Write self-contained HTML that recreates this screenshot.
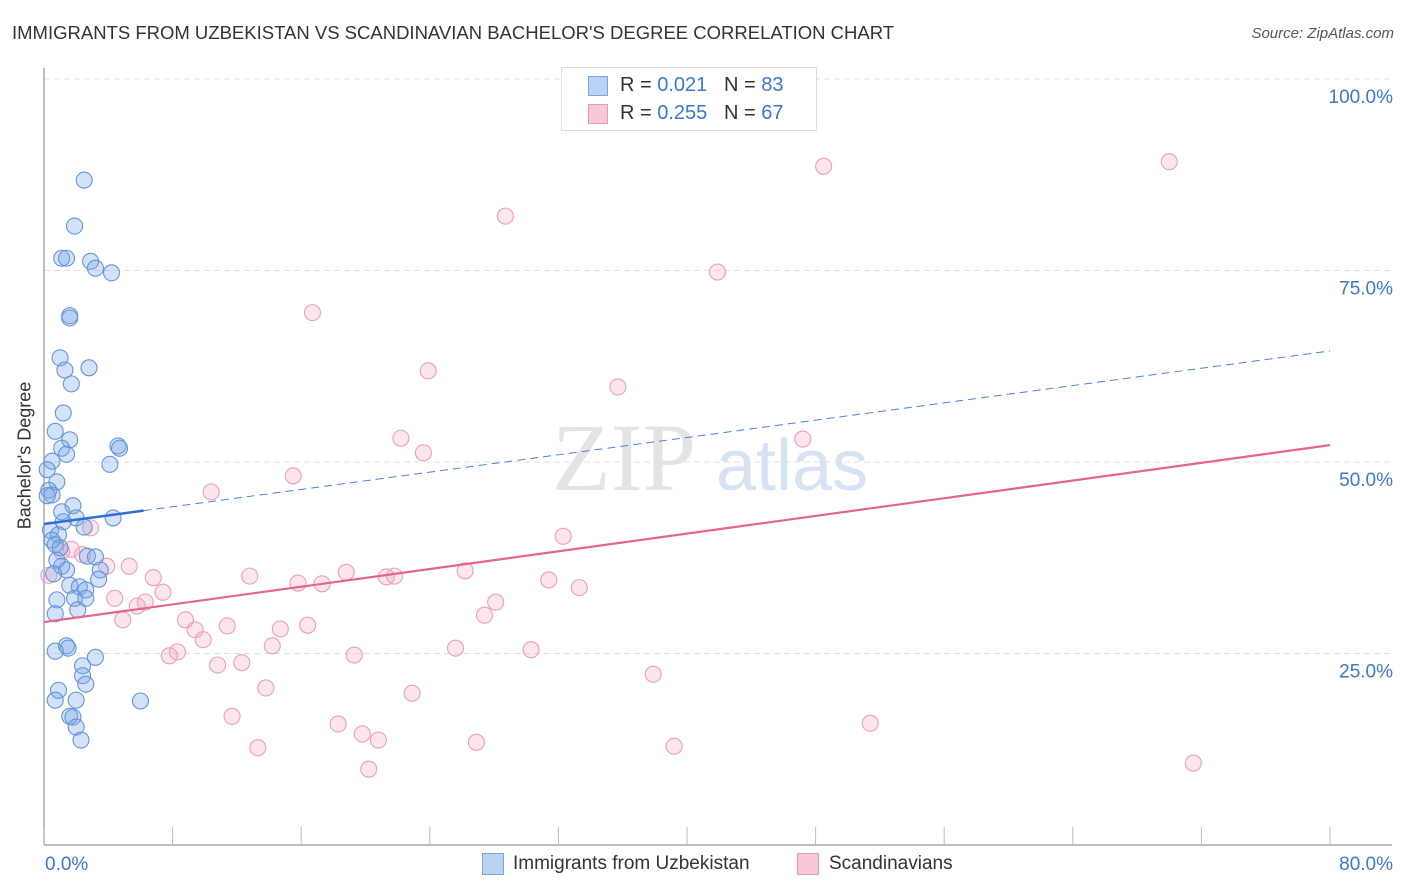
<!DOCTYPE html>
<html><head><meta charset="utf-8">
<style>
body{margin:0;background:#fff;font-family:"Liberation Sans",sans-serif;}
#wrap{position:relative;width:1406px;height:892px;overflow:hidden;}
.t{position:absolute;white-space:nowrap;}
</style></head>
<body>
<div id="wrap">
<div class="t" style="left:12px;top:22px;font-size:18.5px;color:#333;">IMMIGRANTS FROM UZBEKISTAN VS SCANDINAVIAN BACHELOR'S DEGREE CORRELATION CHART</div>
<div class="t" style="right:12px;top:25px;font-size:15px;color:#555;font-style:italic;">Source: ZipAtlas.com</div>
<div class="t" style="left:-49px;top:445px;font-size:18px;color:#333;transform:rotate(-90deg);">Bachelor's Degree</div>
<svg id="plot" width="1406" height="892" style="position:absolute;left:0;top:0"></svg>
<div style="position:absolute;left:561px;top:67px;width:254px;height:62px;border:1px solid #ddd;background:#fff;font-size:20px;color:#333;">
 <div style="position:absolute;left:26px;top:8px;width:18px;height:18px;background:#b9d3f5;border:1px solid #7aa6e0;"></div>
 <div class="t" style="left:58px;top:6px;">R = <span style="color:#3a78d0">0.021</span> &nbsp;&nbsp;N = <span style="color:#3a78d0">83</span></div>
 <div style="position:absolute;left:26px;top:36px;width:18px;height:18px;background:#f9c8d6;border:1px solid #e99ab4;"></div>
 <div class="t" style="left:58px;top:34px;">R = <span style="color:#3a78d0">0.255</span> &nbsp;&nbsp;N = <span style="color:#3a78d0">67</span></div>
</div>
<div style="position:absolute;left:482px;top:853px;width:20px;height:20px;background:#b9d3f5;border:1px solid #7aa6e0;"></div>
<div class="t" style="left:513px;top:853px;font-size:19px;color:#333;">Immigrants from Uzbekistan</div>
<div style="position:absolute;left:797px;top:853px;width:20px;height:20px;background:#f9c8d6;border:1px solid #e99ab4;"></div>
<div class="t" style="left:829px;top:853px;font-size:19px;color:#333;">Scandinavians</div>
</div>
<script>
const yTicks=[25,50,75,100];
const yTickLabels=["25.0%","50.0%","75.0%","100.0%"];
const xTickLabels=["0.0%","80.0%"];
const blueX=[2.5,1.9,1.1,1.4,2.9,3.2,4.2,1.6,1.6,1.0,2.8,1.3,1.7,1.2,0.7,1.6,1.1,4.6,4.7,1.4,0.5,4.1,0.2,0.8,0.3,0.5,0.2,1.8,1.1,2.0,4.3,1.2,2.5,0.4,0.9,0.5,0.7,1.0,2.7,3.2,0.8,1.1,1.4,0.6,3.5,3.4,1.6,2.2,2.6,1.9,2.6,0.8,2.1,0.7,1.4,1.5,0.7,3.2,2.4,2.4,2.6,0.9,0.7,2.0,6.0,1.6,1.8,2.0,2.3];
const blueY=[86.8,80.8,76.6,76.6,76.2,75.3,74.7,69.1,68.8,63.6,62.3,62.0,60.2,56.4,54.0,52.9,51.8,52.1,51.8,51.0,50.1,49.7,49.0,47.4,46.3,45.7,45.6,44.3,43.5,42.7,42.7,42.2,41.5,41.1,40.5,39.8,39.2,38.8,37.7,37.6,37.2,36.4,35.9,35.4,35.9,34.7,33.9,33.7,33.3,32.2,32.2,32.0,30.7,30.2,26.0,25.7,25.3,24.5,23.4,22.1,21.0,20.2,18.9,18.9,18.8,16.8,16.7,15.4,13.7];
const pinkX=[48.5,70.0,28.7,41.9,16.7,23.9,35.7,22.2,47.2,23.6,15.5,10.4,32.3,2.9,1.7,1.1,2.4,3.9,5.3,12.8,18.8,21.3,21.8,26.2,15.8,17.3,6.8,31.4,33.3,7.4,4.4,6.3,5.8,28.1,27.4,4.9,8.8,11.4,9.4,9.9,16.4,14.7,14.2,25.6,30.3,8.3,7.8,19.3,12.3,10.8,37.9,13.8,22.9,11.7,18.3,51.4,19.8,20.8,26.9,13.3,39.2,20.2,71.5,0.3];
const pinkY=[88.6,89.2,82.1,74.8,69.5,61.9,59.8,53.1,53.0,51.2,48.2,46.1,40.3,41.4,38.6,38.3,37.9,36.4,36.4,35.1,35.6,35.0,35.1,35.8,34.2,34.1,34.9,34.6,33.6,33.0,32.2,31.7,31.2,31.7,30.0,29.4,29.4,28.6,28.1,26.8,28.7,28.2,26.0,25.7,25.5,25.2,24.7,24.8,23.8,23.5,22.3,20.5,19.8,16.8,15.8,15.9,14.5,13.7,13.4,12.7,12.9,9.9,10.7,35.2];
const blueTrend=[41.9,64.5];
const pinkTrend=[29.1,52.2];
const X0=44,X1=1330,Y0=845,Y100=79;
const sx=v=>X0+(X1-X0)*v/80;
const sy=v=>Y0-(Y0-Y100)*v/100;
const svg=document.getElementById('plot');
const NS='http://www.w3.org/2000/svg';
function mk(t,a){const e=document.createElementNS(NS,t);for(const k in a)e.setAttribute(k,a[k]);svg.appendChild(e);return e;}
let w=mk('text',{x:552,y:490,'font-size':96,'font-family':'Liberation Serif, serif',fill:'#e4e4e4'});w.textContent='ZIP';


let w2=mk('text',{x:716,y:490,'font-size':72,'font-family':'Liberation Sans, sans-serif',fill:'#d5e3f5'});w2.textContent='atlas';


yTicks.forEach((v,i)=>{
 const g=mk('line',{x1:X0,x2:1392,y1:sy(v),y2:sy(v),stroke:'#e0e0e0','stroke-dasharray':'6,4'});
 
 
 const t=mk('text',{x:1393,y:sy(v)+24,'text-anchor':'end','font-size':19,fill:'#3a78d0','font-family':'Liberation Sans, sans-serif'});
 t.textContent=yTickLabels[i];
 
 
});
const ax=mk('line',{x1:X0,x2:X0,y1:68,y2:Y0,stroke:'#aaa','stroke-width':1.5});


const axx=mk('line',{x1:X0,x2:1392,y1:Y0,y2:Y0,stroke:'#aaa','stroke-width':1.5});


for(let i=0;i<=10;i++){
 const tk=mk('line',{x1:sx(i*8),x2:sx(i*8),y1:827,y2:Y0,stroke:'#bbb'});
 
 
}
[[0,'start',45],[80,'end',1393]].forEach((d,i)=>{
 const t=mk('text',{x:d[2],y:870,'text-anchor':d[1],'font-size':19,fill:'#3a78d0','font-family':'Liberation Sans, sans-serif'});
 t.textContent=xTickLabels[i];
 
 
});
function dots(xs,ys,fill,stroke,name){
 xs.forEach((x,i)=>{
  const c=mk('circle',{cx:sx(x),cy:sy(ys[i]),r:8,fill:fill,stroke:stroke,'stroke-width':1.1});
  
  
 });
}
dots(pinkX,pinkY,'rgba(244,160,188,0.28)','#eba0b9','scandinavian-point');
dots(blueX,blueY,'rgba(120,166,232,0.33)','#6496da','uzbekistan-point');
const bs=mk('line',{x1:sx(0),y1:sy(blueTrend[0]),x2:sx(6.2),y2:sy(blueTrend[0]+(blueTrend[1]-blueTrend[0])*6.2/80),stroke:'#2f6fd0','stroke-width':2.5});


const bd=mk('line',{x1:sx(6.2),y1:sy(blueTrend[0]+(blueTrend[1]-blueTrend[0])*6.2/80),x2:sx(80),y2:sy(blueTrend[1]),stroke:'#4a84d6','stroke-width':1,'stroke-dasharray':'8,5'});


const pt=mk('line',{x1:sx(0),y1:sy(pinkTrend[0]),x2:sx(80),y2:sy(pinkTrend[1]),stroke:'#e5648f','stroke-width':2.2});


</script>
</body></html>
